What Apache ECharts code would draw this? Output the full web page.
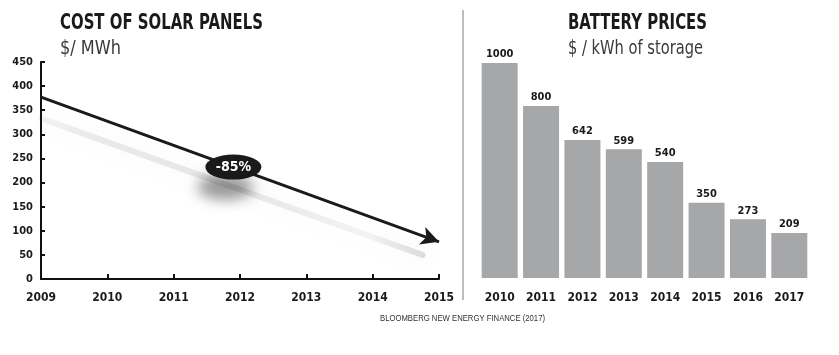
<!DOCTYPE html>
<html><head><meta charset="utf-8">
<script src="https://cdn.jsdelivr.net/npm/echarts@6/dist/echarts.min.js"></script>
<style>html,body{margin:0;padding:0;background:#fff}#c{width:839px;height:355px}</style>
</head><body><div id="c"></div>
<script>
// Left chart: cost of solar panels ($/MWh)
const solarYears = [2009, 2015];
const solarValues = [377, 77];
const solarShadowYears = [2009, 2014.75];
const solarShadowValues = [333, 50];
const solarYTicks = [0, 50, 100, 150, 200, 250, 300, 350, 400, 450];
const badgeYear = 2011.9;
const badgeValue = 232;
const badgeText = '-85%';
// Right chart: battery prices ($/kWh of storage)
const batteryYears = ['2010', '2011', '2012', '2013', '2014', '2015', '2016', '2017'];
const batteryValues = [1000, 800, 642, 599, 540, 350, 273, 209];
// Texts
const leftTitle = 'COST OF SOLAR PANELS';
const leftSub = '$/ MWh';
const rightTitle = 'BATTERY PRICES';
const rightSub = '$ / kWh of storage';
const sourceText = 'BLOOMBERG NEW ENERGY FINANCE (2017)';

const F = "'DejaVu Sans Condensed','Liberation Sans Narrow',sans-serif";
const measureCtx = document.createElement('canvas').getContext('2d');
function fittedText(text, x, y, font, width, fill) {
  measureCtx.font = font;
  const w = measureCtx.measureText(text).width;
  return {type: 'text', x: x, y: y, scaleX: width / w, silent: true,
    style: {text: text, font: font, fill: fill}};
}
const chart = echarts.init(document.getElementById('c'), null, {renderer: 'canvas'});
chart.setOption({
  animation: false,
  backgroundColor: '#fff',
  graphic: [
    {type: 'line', shape: {x1: 463, y1: 10, x2: 463, y2: 300}, style: {stroke: '#bdbdbd', lineWidth: 2}},
    fittedText(leftTitle, 60, 12, "bold 22px 'DejaVu Sans'", 203, '#1a1a1a'),
    fittedText(leftSub, 60, 39, "20px 'DejaVu Sans'", 61, '#3a3a3a'),
    fittedText(rightTitle, 568, 12, "bold 22px 'DejaVu Sans'", 139, '#1a1a1a'),
    fittedText(rightSub, 568, 39, "20px 'DejaVu Sans'", 135, '#3a3a3a'),
    fittedText(sourceText, 380, 314, "9px 'Liberation Sans'", 165, '#333')
  ],
  grid: [
    {left: 41, top: 62, width: 398, height: 217},
    {left: 479, top: 63, width: 331, height: 215}
  ],
  xAxis: [
    {gridIndex: 0, type: 'value', min: 2009, max: 2015, interval: 1,
     axisLine: {lineStyle: {color: '#111', width: 2}},
     axisTick: {inside: true, length: 5, lineStyle: {color: '#111', width: 2}},
     splitLine: {show: false},
     axisLabel: {margin: 13, fontFamily: F, fontWeight: 'bold', fontSize: 12, color: '#1a1a1a', formatter: v => String(v)}},
    {gridIndex: 1, type: 'category', data: batteryYears,
     axisLine: {show: false}, axisTick: {show: false},
     axisLabel: {margin: 14, fontFamily: F, fontWeight: 'bold', fontSize: 12, color: '#1a1a1a'}}
  ],
  yAxis: [
    {gridIndex: 0, type: 'value', min: 0, max: 450, interval: 50,
     axisLine: {show: true, lineStyle: {color: '#111', width: 2}},
     axisTick: {show: true, inside: true, length: 4, lineStyle: {color: '#111', width: 2}},
     splitLine: {show: false},
     axisLabel: {margin: 8, fontFamily: F, fontWeight: 'bold', fontSize: 11, color: '#1a1a1a',
       formatter: v => solarYTicks.indexOf(v) >= 0 ? String(v) : ''}},
    {gridIndex: 1, type: 'value', min: 0, max: 1000, show: false, splitLine: {show: false}}
  ],
  series: [
    {type: 'line', xAxisIndex: 0, yAxisIndex: 0, silent: true, symbol: 'none', z: 1,
     data: solarShadowYears.map((y, i) => [y, solarShadowValues[i]]),
     lineStyle: {width: 6, cap: 'round',
       color: {type: 'linear', x: 0, y: 0, x2: 1, y2: 0, colorStops: [
         {offset: 0, color: 'rgba(100,100,100,0.07)'},
         {offset: 0.15, color: 'rgba(100,100,100,0.13)'},
         {offset: 0.5, color: 'rgba(100,100,100,0.15)'},
         {offset: 0.85, color: 'rgba(100,100,100,0.07)'},
         {offset: 1, color: 'rgba(100,100,100,0.22)'}]},
       shadowBlur: 22, shadowColor: 'rgba(100,100,100,0.45)'}},
    {type: 'line', xAxisIndex: 0, yAxisIndex: 0, silent: true, symbol: 'none', z: 2,
     data: solarYears.map((y, i) => [y, solarValues[i]]),
     lineStyle: {width: 0, opacity: 0},
     markLine: {silent: true, symbol: ['none', 'arrow'], symbolSize: [14, 18], label: {show: false},
       lineStyle: {color: '#1a1a1a', width: 3, type: 'solid', opacity: 1},
       data: [[{coord: [solarYears[0], solarValues[0]]}, {coord: [solarYears[1], solarValues[1]]}]]}},
    {type: 'scatter', xAxisIndex: 0, yAxisIndex: 0, silent: true, symbol: 'circle', symbolSize: [56, 25], z: 10,
     data: [[badgeYear, badgeValue]],
     itemStyle: {color: '#1a1a1a', opacity: 1, shadowBlur: 14, shadowOffsetX: -8, shadowOffsetY: 20, shadowColor: 'rgba(0,0,0,0.4)'},
     label: {show: true, position: 'inside', formatter: badgeText, color: '#fff', fontFamily: F, fontWeight: 'bold', fontSize: 14}},
    {type: 'bar', xAxisIndex: 1, yAxisIndex: 1, data: batteryValues, barCategoryGap: '13%',
     itemStyle: {color: '#a6a7a9'},
     label: {show: true, position: 'top', distance: 3, fontFamily: F, fontWeight: 'bold', fontSize: 11, color: '#1a1a1a'}}
  ]
});
</script></body></html>
